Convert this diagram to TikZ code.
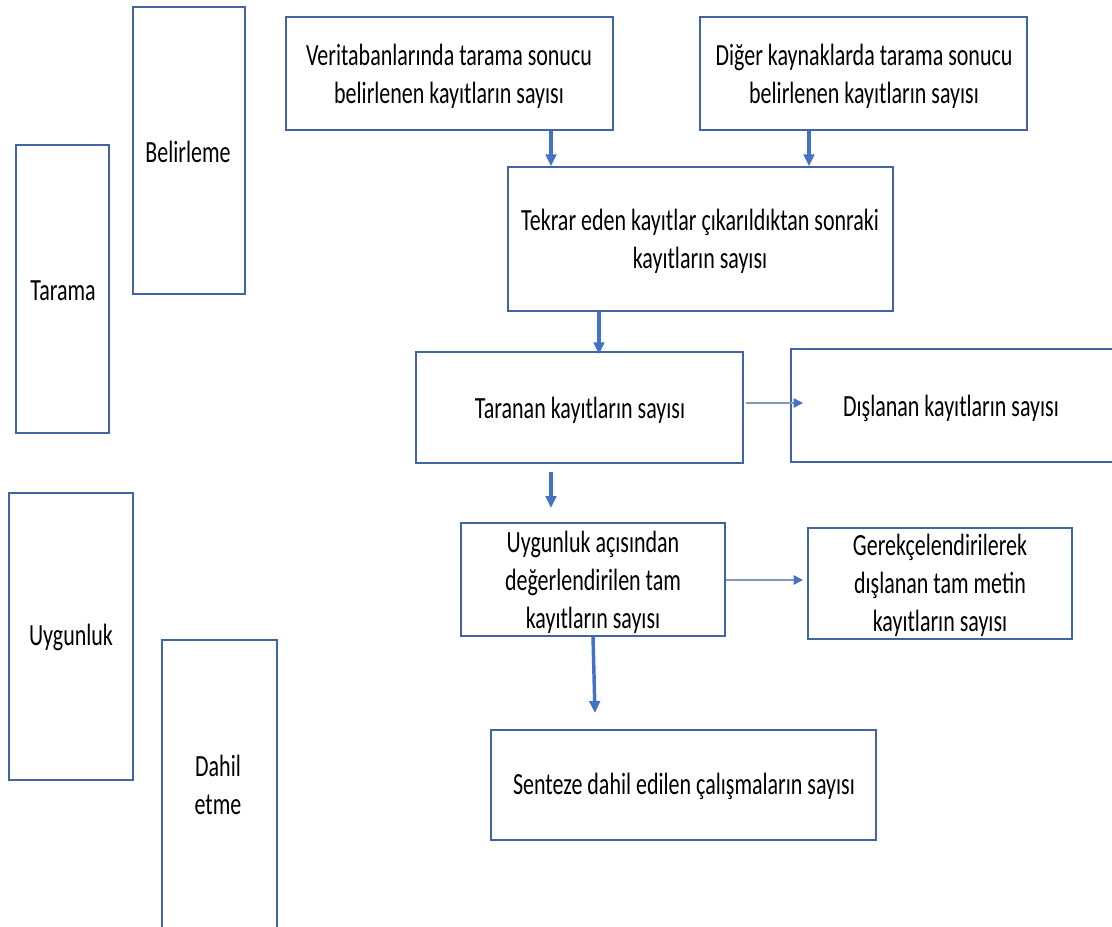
\documentclass[tikz,border=0pt]{standalone}
\usepackage{fontspec}
\setmainfont{Carlito}
\usetikzlibrary{arrows.meta}
\definecolor{edge}{RGB}{66,100,160}
\definecolor{arrblue}{RGB}{68,114,196}
\definecolor{thin}{RGB}{136,152,184}
\tikzset{
  x=0.75pt, y=-0.75pt,
  bx/.style 2 args={draw=edge, line width=1.1pt, fill=none, inner sep=0pt,
    minimum width=#1*0.75pt, minimum height=#2*0.75pt},
  lbl/.style={align=center, inner sep=0pt, yscale=1.4,
    font=\fontsize{16.5pt}{20.3pt}\selectfont, text=black},
  thick arr/.style={draw=arrblue, line width=2.6pt,
    -{Triangle[width=8pt,length=9pt]}},
  thin arr/.style={draw=thin, line width=1.2pt,
    -{Triangle[width=7pt,length=7pt,color=arrblue]}},
}
\begin{document}
\begin{tikzpicture}
\useasboundingbox (0,0) rectangle (1112,926);
\clip (0,0) rectangle (1112,926);
\fill[white] (0,0) rectangle (1112,926);

% side boxes
\node[bx={112}{287}] (bel) at (189,150.5) {};
\node[lbl] (tbel) at (188,152) {Belirleme};
\node[bx={93}{288}] (tar) at (62.5,289) {};
\node[lbl] (ttar) at (63,291) {Tarama};
\node[bx={124}{287}] (uyg) at (71,636.5) {};
\node[lbl] (tuyg) at (71,637) {Uygunluk};
\node[bx={115}{300}] (dah) at (219.5,790) {};
\node[lbl] (tdah) at (218,785) {Dahil\\etme};

% main boxes
\node[bx={327}{113}] (b1) at (449.5,73.5) {};
\node[lbl] (t1) at (449,76) {Veritabanlarında tarama sonucu\\belirlenen kayıtların sayısı};
\node[bx={327}{113}] (b2) at (863.5,73.5) {};
\node[lbl] (t2) at (864,76) {Diğer kaynaklarda tarama sonucu\\belirlenen kayıtların sayısı};
\node[bx={385}{144}] (b3) at (700.5,239) {};
\node[lbl] (t3) at (700,241) {Tekrar eden kayıtlar çıkarıldıktan sonraki\\kayıtların sayısı};
\node[bx={327}{111}] (b4) at (579.5,407.5) {};
\node[lbl] (t4) at (580,410) {Taranan kayıtların sayısı};
\node[bx={329}{113}] (b5) at (955.5,405.5) {};
\node[lbl] (t5) at (951,408) {Dışlanan kayıtların sayısı};
\node[bx={264}{113}] (b6) at (593,579.5) {};
\node[lbl] (t6) at (593,582) {Uygunluk açısından\\değerlendirilen tam\\kayıtların sayısı};
\node[bx={264}{111}] (b7) at (940,583.5) {};
\node[lbl] (t7) at (940,585) {Gerekçelendirilerek\\dışlanan tam metin\\kayıtların sayısı};
\node[bx={385}{110}] (b8) at (683.5,785) {};
\node[lbl] (t8) at (684,786) {Senteze dahil edilen çalışmaların sayısı};

% helper coordinates
\coordinate (xa) at (551,0);
\coordinate (xb) at (809,0);
\coordinate (xc) at (599,0);
\coordinate (a4s) at (551,472);
\coordinate (a4e) at (551,508);
\coordinate (a5s) at (746,403);
\coordinate (a5e) at (803,403);
\coordinate (a6s) at (726,580);
\coordinate (a6e) at (803,580);
\coordinate (a7e) at (595,713);

% arrows
\draw[thick arr] (b1.south -| xa) -- (b3.north -| xa);
\draw[thick arr] (b2.south -| xb) -- (b3.north -| xb);
\draw[thick arr] (b3.south -| xc) -- ([yshift=-2.25pt]b4.north -| xc);
\draw[thick arr] (a4s) -- (a4e);
\draw[thin arr] (a5s) -- (a5e);
\draw[thin arr] (a6s) -- (a6e);
\draw[thick arr] (b6.south) -- (a7e);
\end{tikzpicture}
\end{document}
